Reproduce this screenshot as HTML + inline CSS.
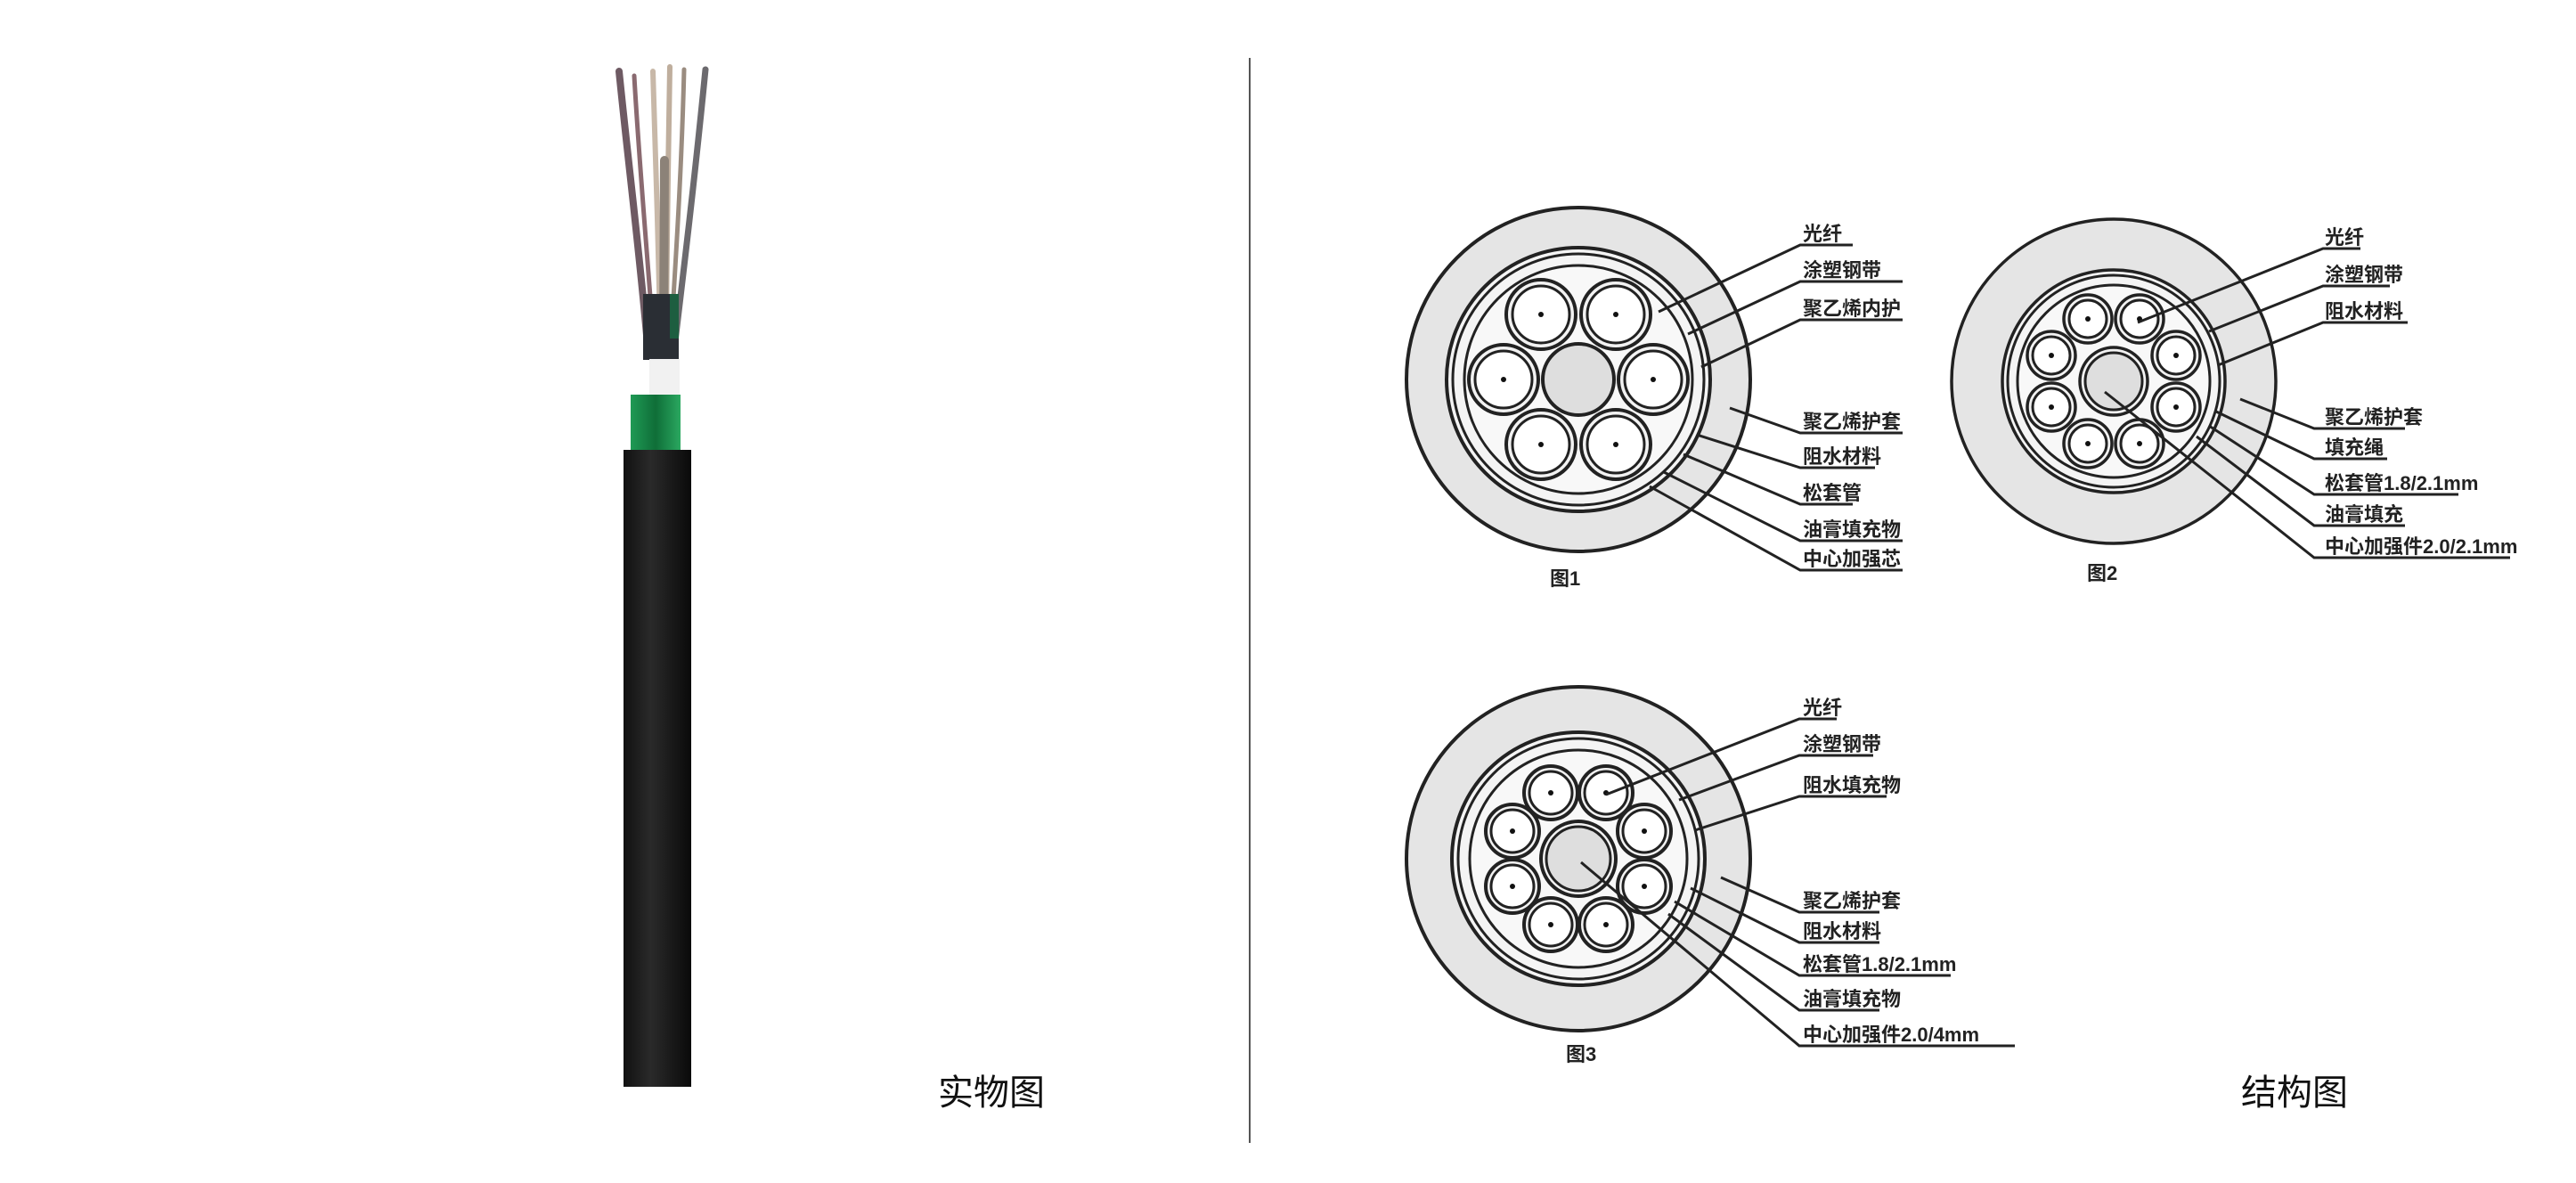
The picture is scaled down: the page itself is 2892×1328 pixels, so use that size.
<!DOCTYPE html>
<html><head><meta charset="utf-8"><style>
html,body{margin:0;padding:0;background:#fff;}
svg{display:block;}
text{font-family:"Liberation Sans","Noto Sans CJK SC",sans-serif;}
.lb{font-size:22px;font-weight:bold;fill:#222;}
</style></head><body>
<svg width="2892" height="1328" viewBox="0 0 2892 1328" xmlns="http://www.w3.org/2000/svg">
<defs>
<linearGradient id="jk" x1="0" x2="1"><stop offset="0" stop-color="#111"/><stop offset="0.4" stop-color="#2a2a2a"/><stop offset="1" stop-color="#0a0a0a"/></linearGradient>
<linearGradient id="gr" x1="0" x2="1"><stop offset="0" stop-color="#1f9a55"/><stop offset="0.5" stop-color="#0f6e38"/><stop offset="1" stop-color="#2aa860"/></linearGradient>
</defs>
<!-- photo -->
<g stroke-linecap="round" fill="none">
<path d="M728 400 C720 300 705 180 695 80" stroke="#6e5a63" stroke-width="8"/>
<path d="M735 400 C728 300 718 190 712 85" stroke="#8a6a70" stroke-width="5"/>
<path d="M742 400 C740 300 736 180 733 80" stroke="#c8b8a8" stroke-width="6"/>
<path d="M748 400 C748 300 750 200 752 75" stroke="#bfae9d" stroke-width="6"/>
<path d="M752 400 C758 300 765 200 768 78" stroke="#9a8c80" stroke-width="5"/>
<path d="M756 400 C768 300 780 200 792 78" stroke="#6c6a6e" stroke-width="7"/>
<path d="M745 380 L746 180" stroke="#8c8278" stroke-width="10"/>
</g>
<rect x="722" y="330" width="40" height="74" fill="#2a2e34"/>
<rect x="752" y="330" width="10" height="50" fill="#1d5e40"/>
<rect x="729" y="403" width="34" height="40" fill="#f1f1f1"/>
<rect x="708" y="443" width="56" height="62" fill="url(#gr)"/>
<rect x="700" y="505" width="76" height="715" fill="url(#jk)"/>
<text x="1053" y="1240" font-size="40" fill="#111">实物图</text>
<line x1="1403" y1="65" x2="1403" y2="1283" stroke="#555" stroke-width="2"/>
<text x="2516" y="1240" font-size="40" fill="#111">结构图</text>

<!-- Fig1 -->
<g stroke="#222" stroke-width="4">
<circle cx="1772" cy="426" r="193" fill="#e5e5e5"/>
<circle cx="1772" cy="426" r="148" fill="#f4f4f4"/>
<circle cx="1772" cy="426" r="141" fill="none" stroke-width="3"/>
<circle cx="1772" cy="426" r="128" fill="#f8f8f8" stroke-width="3"/>
<circle cx="1772" cy="426" r="40" fill="#dedede"/>
<g fill="#f2f2f2">
<circle cx="1856" cy="426" r="39"/><circle cx="1814" cy="499" r="39"/><circle cx="1730" cy="499" r="39"/>
<circle cx="1688" cy="426" r="39"/><circle cx="1730" cy="353" r="39"/><circle cx="1814" cy="353" r="39"/>
</g>
<g fill="#fff" stroke-width="3">
<circle cx="1856" cy="426" r="32"/><circle cx="1814" cy="499" r="32"/><circle cx="1730" cy="499" r="32"/>
<circle cx="1688" cy="426" r="32"/><circle cx="1730" cy="353" r="32"/><circle cx="1814" cy="353" r="32"/>
</g>
</g>
<g fill="#111">
<circle cx="1856" cy="426" r="3"/><circle cx="1814" cy="499" r="3"/><circle cx="1730" cy="499" r="3"/>
<circle cx="1688" cy="426" r="3"/><circle cx="1730" cy="353" r="3"/><circle cx="1814" cy="353" r="3"/>
</g>
<g stroke="#222" stroke-width="3" fill="none">
<polyline points="1862,350 2021,275 2080,275"/>
<polyline points="1895,375 2021,316 2136,316"/>
<polyline points="1910,412 2021,359 2136,359"/>
<polyline points="1942,458 2021,486 2136,486"/>
<polyline points="1905,488 2021,525 2105,525"/>
<polyline points="1890,510 2021,566 2080,566"/>
<polyline points="1868,530 2021,607 2136,607"/>
<polyline points="1852,546 2021,640 2136,640"/>
</g>
<g class="lb">
<text x="2024" y="270">光纤</text>
<text x="2024" y="311">涂塑钢带</text>
<text x="2024" y="354">聚乙烯内护</text>
<text x="2024" y="481">聚乙烯护套</text>
<text x="2024" y="520">阻水材料</text>
<text x="2024" y="561">松套管</text>
<text x="2024" y="602">油膏填充物</text>
<text x="2024" y="635">中心加强芯</text>
<text x="1740" y="657">图1</text>
</g>

<!-- Fig2 -->
<g stroke="#222" stroke-width="3.5">
<circle cx="2373" cy="428" r="182" fill="#e5e5e5"/>
<circle cx="2373" cy="428" r="125" fill="#f4f4f4"/>
<circle cx="2373" cy="428" r="119" fill="none" stroke-width="3"/>
<circle cx="2373" cy="428" r="108" fill="#f8f8f8" stroke-width="3"/>
<circle cx="2373" cy="428" r="38" fill="#f2f2f2"/>
<circle cx="2373" cy="428" r="32" fill="#dedede" stroke-width="3"/>
<g fill="#f2f2f2">
<circle cx="2443" cy="457" r="27"/><circle cx="2402" cy="498" r="27"/><circle cx="2344" cy="498" r="27"/><circle cx="2303" cy="457" r="27"/>
<circle cx="2303" cy="399" r="27"/><circle cx="2344" cy="358" r="27"/><circle cx="2402" cy="358" r="27"/><circle cx="2443" cy="399" r="27"/>
</g>
<g fill="#fff" stroke-width="3">
<circle cx="2443" cy="457" r="21"/><circle cx="2402" cy="498" r="21"/><circle cx="2344" cy="498" r="21"/><circle cx="2303" cy="457" r="21"/>
<circle cx="2303" cy="399" r="21"/><circle cx="2344" cy="358" r="21"/><circle cx="2402" cy="358" r="21"/><circle cx="2443" cy="399" r="21"/>
</g>
</g>
<g fill="#111">
<circle cx="2443" cy="457" r="3"/><circle cx="2402" cy="498" r="3"/><circle cx="2344" cy="498" r="3"/><circle cx="2303" cy="457" r="3"/>
<circle cx="2303" cy="399" r="3"/><circle cx="2344" cy="358" r="3"/><circle cx="2402" cy="358" r="3"/><circle cx="2443" cy="399" r="3"/>
</g>
<g stroke="#222" stroke-width="3" fill="none">
<polyline points="2400,362 2608,279 2650,279"/>
<polyline points="2480,372 2608,321 2683,321"/>
<polyline points="2490,410 2608,362 2703,362"/>
<polyline points="2515,448 2598,481 2700,481"/>
<polyline points="2488,462 2598,515 2680,515"/>
<polyline points="2480,478 2598,555 2760,555"/>
<polyline points="2466,490 2598,590 2700,590"/>
<polyline points="2363,440 2598,626 2818,626"/>
</g>
<g class="lb">
<text x="2610" y="274">光纤</text>
<text x="2610" y="316">涂塑钢带</text>
<text x="2610" y="357">阻水材料</text>
<text x="2610" y="476">聚乙烯护套</text>
<text x="2610" y="510">填充绳</text>
<text x="2610" y="550">松套管1.8/2.1mm</text>
<text x="2610" y="585">油膏填充</text>
<text x="2610" y="621">中心加强件2.0/2.1mm</text>
<text x="2343" y="651">图2</text>
</g>

<!-- Fig3 -->
<g stroke="#222" stroke-width="4">
<circle cx="1772" cy="964" r="193" fill="#e5e5e5"/>
<circle cx="1772" cy="964" r="142" fill="#f4f4f4"/>
<circle cx="1772" cy="964" r="135" fill="none" stroke-width="3"/>
<circle cx="1772" cy="964" r="122" fill="#f8f8f8" stroke-width="3"/>
<circle cx="1772" cy="964" r="42" fill="#f2f2f2"/>
<circle cx="1772" cy="964" r="36" fill="#dedede" stroke-width="3"/>
<g fill="#f2f2f2">
<circle cx="1846" cy="995" r="30"/><circle cx="1803" cy="1038" r="30"/><circle cx="1741" cy="1038" r="30"/><circle cx="1698" cy="995" r="30"/>
<circle cx="1698" cy="933" r="30"/><circle cx="1741" cy="890" r="30"/><circle cx="1803" cy="890" r="30"/><circle cx="1846" cy="933" r="30"/>
</g>
<g fill="#fff" stroke-width="3">
<circle cx="1846" cy="995" r="24"/><circle cx="1803" cy="1038" r="24"/><circle cx="1741" cy="1038" r="24"/><circle cx="1698" cy="995" r="24"/>
<circle cx="1698" cy="933" r="24"/><circle cx="1741" cy="890" r="24"/><circle cx="1803" cy="890" r="24"/><circle cx="1846" cy="933" r="24"/>
</g>
</g>
<g fill="#111">
<circle cx="1846" cy="995" r="3"/><circle cx="1803" cy="1038" r="3"/><circle cx="1741" cy="1038" r="3"/><circle cx="1698" cy="995" r="3"/>
<circle cx="1698" cy="933" r="3"/><circle cx="1741" cy="890" r="3"/><circle cx="1803" cy="890" r="3"/><circle cx="1846" cy="933" r="3"/>
</g>
<g stroke="#222" stroke-width="3" fill="none">
<polyline points="1803,892 2020,807 2062,807"/>
<polyline points="1885,898 2020,848 2103,848"/>
<polyline points="1903,932 2020,894 2118,894"/>
<polyline points="1932,985 2020,1024 2110,1024"/>
<polyline points="1898,997 2020,1058 2110,1058"/>
<polyline points="1880,1012 2020,1095 2190,1095"/>
<polyline points="1873,1026 2020,1134 2110,1134"/>
<polyline points="1775,968 2020,1174 2262,1174"/>
</g>
<g class="lb">
<text x="2024" y="802">光纤</text>
<text x="2024" y="843">涂塑钢带</text>
<text x="2024" y="889">阻水填充物</text>
<text x="2024" y="1019">聚乙烯护套</text>
<text x="2024" y="1053">阻水材料</text>
<text x="2024" y="1090">松套管1.8/2.1mm</text>
<text x="2024" y="1129">油膏填充物</text>
<text x="2024" y="1169">中心加强件2.0/4mm</text>
<text x="1758" y="1191">图3</text>
</g>
</svg>
</body></html>
